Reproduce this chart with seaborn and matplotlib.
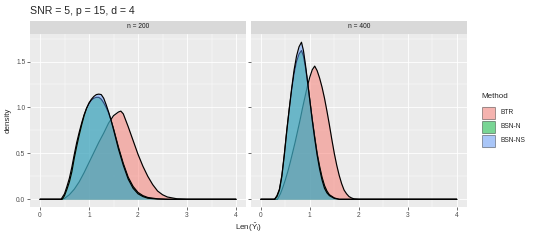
import matplotlib
matplotlib.use("Agg")
import matplotlib.pyplot as plt
from matplotlib.patches import Rectangle
import pandas as pd
import seaborn as sns

# density curves (x = Len(Y_i), y = density)
methods = ["BTR", "BSN-N", "BSN-NS"]
colors = {"BTR": "#F8766D", "BSN-N": "#00BA38", "BSN-NS": "#619CFF"}
panels = ["n = 200", "n = 400"]

# n = 200
btr_200_x = [0, 0.44, 0.5, 0.6, 0.7, 0.8, 0.9, 1.0, 1.1, 1.2, 1.3, 1.4, 1.5, 1.6, 1.65, 1.7, 1.8, 1.9,
             2.0, 2.1, 2.2, 2.3, 2.4, 2.5, 2.6, 2.8, 3.0, 4.0]
btr_200_y = [0, 0, 0.01, 0.05, 0.11, 0.19, 0.29, 0.40, 0.51, 0.62, 0.72, 0.83, 0.91, 0.95, 0.96, 0.93, 0.79,
             0.64, 0.49, 0.36, 0.25, 0.16, 0.09, 0.05, 0.025, 0.005, 0, 0]
bsnn_200_x = [0, 0.43, 0.5, 0.55, 0.6, 0.65, 0.7, 0.75, 0.8, 0.85, 0.9, 0.95, 1.0, 1.05, 1.1, 1.15, 1.2,
              1.25, 1.3, 1.35, 1.4, 1.45, 1.5, 1.6, 1.7, 1.8, 1.9, 2.0, 2.1, 2.2, 2.4, 2.6, 4.0]
bsnn_200_y = [0, 0, 0.06, 0.14, 0.23, 0.35, 0.49, 0.62, 0.73, 0.83, 0.92, 0.99, 1.04, 1.08, 1.10, 1.11, 1.11,
              1.09, 1.05, 1.00, 0.94, 0.86, 0.77, 0.57, 0.39, 0.24, 0.14, 0.075, 0.04, 0.02, 0.005, 0, 0]
bsnns_200_x = [0, 0.45, 0.5, 0.55, 0.6, 0.65, 0.7, 0.75, 0.8, 0.85, 0.9, 0.95, 1.0, 1.05, 1.1, 1.15, 1.2,
               1.25, 1.3, 1.35, 1.4, 1.45, 1.5, 1.6, 1.7, 1.8, 1.9, 2.0, 2.1, 2.2, 2.4, 2.6, 4.0]
bsnns_200_y = [0, 0, 0.04, 0.11, 0.19, 0.30, 0.45, 0.58, 0.70, 0.81, 0.91, 0.99, 1.05, 1.09, 1.12, 1.14, 1.145,
               1.14, 1.10, 1.03, 0.95, 0.86, 0.76, 0.55, 0.37, 0.22, 0.12, 0.06, 0.03, 0.012, 0.003, 0, 0]

# n = 400
btr_400_x = [0, 0.34, 0.40, 0.45, 0.50, 0.55, 0.60, 0.65, 0.70, 0.75, 0.80, 0.85, 0.90, 0.95, 1.00, 1.05,
             1.10, 1.15, 1.20, 1.25, 1.30, 1.35, 1.40, 1.45, 1.50, 1.55, 1.60, 1.65, 1.70, 1.75, 1.80,
             1.85, 1.90, 2.00, 4.0]
btr_400_y = [0, 0, 0.06, 0.13, 0.21, 0.30, 0.40, 0.51, 0.62, 0.74, 0.86, 0.99, 1.11, 1.23, 1.33, 1.41,
             1.45, 1.40, 1.32, 1.22, 1.10, 0.96, 0.81, 0.65, 0.50, 0.37, 0.26, 0.17, 0.10, 0.06, 0.03,
             0.015, 0.005, 0, 0]
bsnn_400_x = [0, 0.28, 0.33, 0.38, 0.43, 0.48, 0.53, 0.58, 0.63, 0.68, 0.73, 0.78, 0.83, 0.87, 0.91,
              0.95, 1.00, 1.05, 1.10, 1.15, 1.20, 1.25, 1.30, 1.35, 1.40, 1.50, 1.60, 4.0]
bsnn_400_y = [0, 0, 0.04, 0.11, 0.26, 0.49, 0.75, 0.98, 1.19, 1.37, 1.50, 1.58, 1.62, 1.56, 1.44,
              1.29, 1.08, 0.87, 0.68, 0.50, 0.36, 0.24, 0.15, 0.09, 0.05, 0.015, 0, 0]
bsnns_400_x = [0, 0.28, 0.33, 0.38, 0.43, 0.48, 0.53, 0.58, 0.63, 0.68, 0.73, 0.78, 0.83, 0.87, 0.91,
               0.95, 1.00, 1.05, 1.10, 1.15, 1.20, 1.25, 1.30, 1.35, 1.40, 1.50, 1.60, 4.0]
bsnns_400_y = [0, 0, 0.03, 0.10, 0.25, 0.48, 0.74, 0.98, 1.21, 1.41, 1.56, 1.66, 1.71, 1.62, 1.47,
               1.30, 1.08, 0.86, 0.66, 0.48, 0.33, 0.21, 0.12, 0.07, 0.04, 0.01, 0, 0]

curves = {
    ("n = 200", "BTR"): (btr_200_x, btr_200_y),
    ("n = 200", "BSN-N"): (bsnn_200_x, bsnn_200_y),
    ("n = 200", "BSN-NS"): (bsnns_200_x, bsnns_200_y),
    ("n = 400", "BTR"): (btr_400_x, btr_400_y),
    ("n = 400", "BSN-N"): (bsnn_400_x, bsnn_400_y),
    ("n = 400", "BSN-NS"): (bsnns_400_x, bsnns_400_y),
}
rows = []
for (n, m), (xs, ys) in curves.items():
    for x, y in zip(xs, ys):
        rows.append({"n": n, "Method": m, "x": x, "density": y})
df = pd.DataFrame(rows)

sns.set_style("darkgrid")
plt.rcParams["font.family"] = ["Liberation Sans", "DejaVu Sans"]
plt.rcParams["mathtext.fontset"] = "custom"
plt.rcParams["mathtext.rm"] = "Liberation Sans"
plt.rcParams["mathtext.it"] = "Liberation Sans:italic"

W, H = 540, 240
fig = plt.figure(figsize=(W / 100, H / 100), dpi=100)
fig.patch.set_facecolor("white")


def px_axes(l, t, r, b):
    return fig.add_axes([l / W, 1 - b / H, (r - l) / W, (b - t) / H])


panel_left = [30.2, 251.0]
panel_w = 215.6
top, bottom = 33.5, 207.2
strip_top = 20.5

for i, n in enumerate(panels):
    l = panel_left[i]
    ax = px_axes(l, top, l + panel_w, bottom)
    ax.set_facecolor("#EBEBEB")
    for z, m in enumerate(methods):
        sub = df[(df["n"] == n) & (df["Method"] == m)]
        ax.fill_between(sub["x"], 0, sub["density"], color=colors[m], alpha=0.5,
                        linewidth=0, zorder=2 + 2 * z)
        sns.lineplot(data=sub, x="x", y="density", color="black", linewidth=0.85,
                     estimator=None, sort=False, ax=ax, zorder=3 + 2 * z)
    ax.set_xlim(-0.2, 4.2)
    ax.set_ylim(-0.086, 1.805)
    ax.set_xticks([0, 1, 2, 3, 4])
    ax.set_xticks([0.5, 1.5, 2.5, 3.5], minor=True)
    ax.set_yticks([0, 0.5, 1.0, 1.5])
    ax.set_yticks([0.25, 0.75, 1.25, 1.75], minor=True)
    ax.grid(which="major", color="white", linewidth=0.6)
    ax.grid(which="minor", color="white", linewidth=0.3)
    ax.set_axisbelow(True)
    for s in ax.spines.values():
        s.set_visible(False)
    ax.tick_params(which="major", length=2, width=0.5, color="#333333",
                   labelsize=4.8, labelcolor="#4D4D4D", pad=1.5)
    ax.tick_params(which="minor", length=0)
    ax.set_xticklabels(["0", "1", "2", "3", "4"])
    if i == 0:
        ax.set_yticklabels(["0.0", "0.5", "1.0", "1.5"])
        ax.tick_params(axis="y", left=True)
    else:
        ax.set_yticklabels([])
        ax.tick_params(axis="y", left=True, labelleft=False)
    ax.tick_params(axis="x", bottom=True)
    ax.set_xlabel("")
    ax.set_ylabel("")

    sax = px_axes(l, strip_top, l + panel_w, top)
    sax.set_facecolor("#D9D9D9")
    sax.set_xticks([])
    sax.set_yticks([])
    for s in sax.spines.values():
        s.set_visible(False)
    sax.text(0.5, 0.5, n, ha="center", va="center", fontsize=4.8, color="#1A1A1A",
             transform=sax.transAxes)

fig.text(30 / W, 1 - 10.5 / H, "SNR = 5, p = 15, d = 4", fontsize=7.6, ha="left", va="center")
fig.text(8 / W, 1 - 120 / H, "density", fontsize=5.8, rotation=90, ha="center", va="center")
fig.text(248.5 / W, 1 - 227 / H, r"Len($\hat{\mathrm{Y}}_{\mathrm{i}}$)", fontsize=5.8,
         ha="center", va="center")

# legend
fig.text(481.7 / W, 1 - 96 / H, "Method", fontsize=5.8, ha="left", va="center")
for k, m in enumerate(methods):
    y0 = 106 + 14 * k
    fig.add_artist(Rectangle((481.7 / W, 1 - (y0 + 13.5) / H), 13.5 / W, 13.5 / H,
                             transform=fig.transFigure, facecolor="#F2F2F2", edgecolor="white",
                             linewidth=0.5))
    fig.add_artist(Rectangle((482.3 / W, 1 - (y0 + 12.9) / H), 12.3 / W, 12.3 / H,
                             transform=fig.transFigure, facecolor=colors[m], alpha=0.5,
                             edgecolor="black", linewidth=0.5))
    fig.text(500.7 / W, 1 - (y0 + 6.75) / H, m, fontsize=4.8, ha="left", va="center")

fig.savefig("out.png", dpi=100)
